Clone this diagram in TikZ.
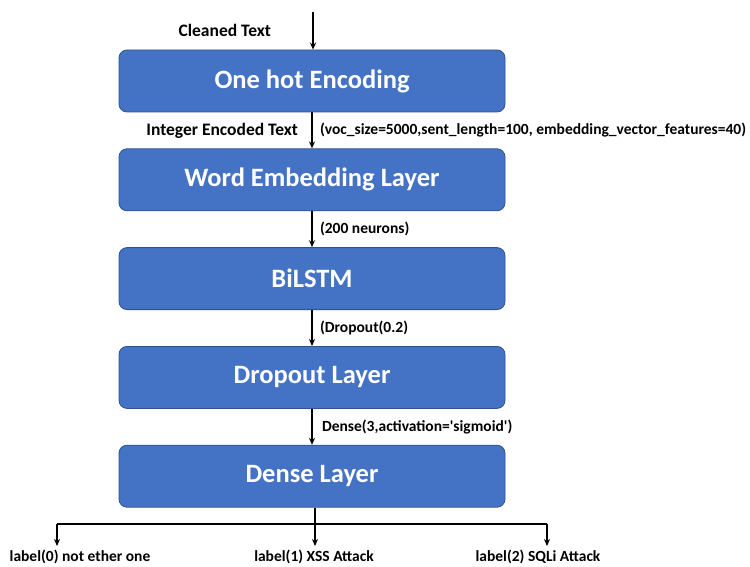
\documentclass[tikz,border=0pt]{standalone}
\usepackage{fontspec}
\setmainfont{Carlito}
\usetikzlibrary{arrows.meta,positioning}
\definecolor{layerblue}{HTML}{4472C4}
\definecolor{layeredge}{HTML}{2F528F}

\begin{document}
\begin{tikzpicture}[x=1pt,y=1pt,yscale=-1,xscale=1,
  layer/.style = {draw=layeredge, line width=0.8pt, fill=layerblue,
  rounded corners=8pt, minimum width=386pt, minimum height=62pt,
  text=white, font=\fontsize{26.5}{30}\selectfont\bfseries},
  note/.style = {text=black, font=\fontsize{15.5}{18}\selectfont\bfseries},
  bignote/.style = {note, font=\fontsize{17.5}{20}\selectfont\bfseries},
  node distance=36pt,
  line width=1.4pt,
  >={Stealth[length=7pt,width=6pt]}]
  \useasboundingbox (0,0) rectangle (750,567);
  \coordinate (in) at (313,12);
  \node[layer] (onehot) at (312,81) {One hot Encoding};
  \node[layer] (embed) [below=of onehot] {Word Embedding Layer};
  \node[layer] (bilstm) [below=of embed] {BiLSTM};
  \node[layer] (drop) [below=of bilstm] {Dropout Layer};
  \node[layer] (dense) [below=of drop] {Dense Layer};

  % outputs
  \coordinate (split) at (315,524);
  \coordinate (left) at (57,524);
  \coordinate (right) at (547,524);
  \node[note] (l0) at (80,557) {label(0) not ether one};
  \node[note] (l1) at (314,557) {label(1) XSS Attack};
  \node[note] (l2) at (538,557) {label(2) SQLi Attack};

  \draw[->] (in) -- (onehot.north -| in) node[midway, left, bignote, xshift=-38pt]{Cleaned Text};
  \draw[->] (onehot) -- (embed) node[midway, left, bignote, xshift=-10pt]{Integer Encoded Text}
    node[midway, right, note, xshift=4pt]{(voc\_size=5000,sent\_length=100, embedding\_vector\_features=40)};
  \draw[->] (embed) -- (bilstm) node[midway, right, note, xshift=4pt]{(200 neurons)};
  \draw[->] (bilstm) -- (drop) node[midway, right, note, xshift=4pt]{(Dropout(0.2)};
  \draw[->] (drop) -- (dense) node[midway, right, note, xshift=6pt]{Dense(3,activation=\textquotesingle sigmoid\textquotesingle)};
  \draw (dense.south -| split) -- (split);
  \draw (left) -- (right);
  \draw[->] (left) -- (left |- l0.north);
  \draw[->] (split) -- (split |- l1.north);
  \draw[->] (right) -- (right |- l2.north);
\end{tikzpicture}
\end{document}
